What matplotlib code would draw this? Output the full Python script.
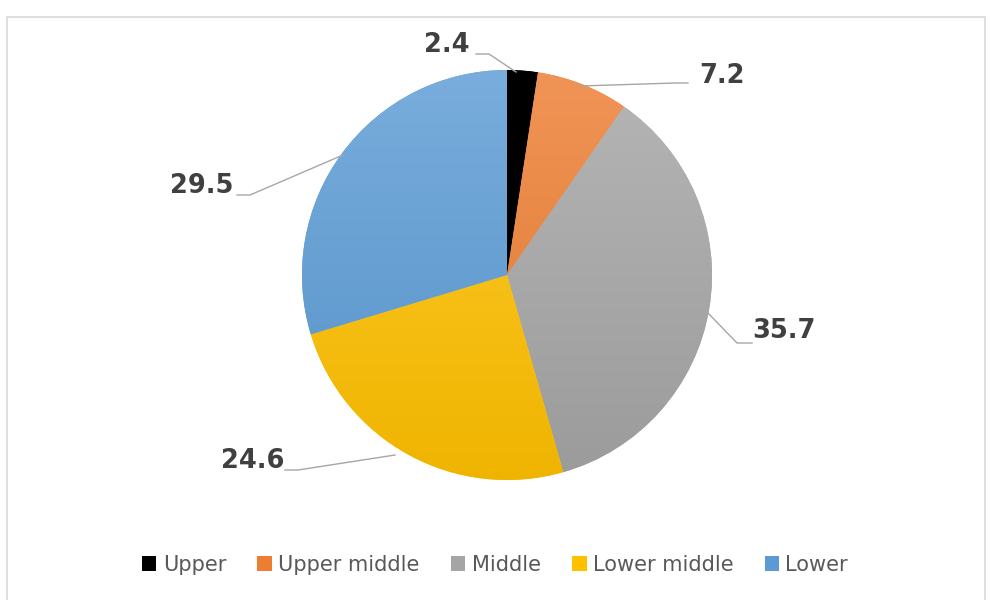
import numpy as np
import matplotlib
matplotlib.use("Agg")
import matplotlib.pyplot as plt
from matplotlib.patches import Patch, Rectangle
from matplotlib.colors import to_rgb

# --- data ---
categories = ["Upper", "Upper middle", "Middle", "Lower middle", "Lower"]
shares = [2.4, 7.2, 35.7, 24.6, 29.5]
colors = ["#000000", "#ED7D31", "#A5A5A5", "#FFC000", "#5B9BD5"]
label_text = ["2.4", "7.2", "35.7", "24.6", "29.5"]

# label text position (pixels from top-left) and leader line points
label_pos = [(447, 45), (722, 76), (784, 331), (253, 461), (202, 186)]
leader_pts = [
    [(476, 54), (489, 54), (516, 72)],
    [(688, 83), (675, 83), (580, 86)],
    [(707, 312), (737, 343), (752, 343)],
    [(285, 470), (298, 470), (395, 455)],
    [(237, 195), (250, 195), (343, 155)],
]

W, H = 990, 600
cx, cy, r = 507, 275, 205

fig = plt.figure(figsize=(9.9, 6.0), dpi=100)
ax = fig.add_axes([0, 0, 1, 1])

# light frame round the chart area
ax.add_patch(Rectangle((7, -5), 978, 588, fill=False, edgecolor="#D9D9D9", lw=1.2))

wedges, _ = ax.pie(shares, colors=colors, startangle=90, counterclock=False,
                   center=(cx, H - cy), radius=r, frame=True,
                   wedgeprops=dict(linewidth=0))

# vertical gradient inside each slice (lighter on top)
def lighten(c, f):
    c = np.array(to_rgb(c))
    return c + (1 - c) * f

grad = np.linspace(0, 1, 256)[:, None]
for w, c in zip(wedges, colors):
    top = lighten(c, 0.18) if c != "#000000" else np.array([0, 0, 0])
    bot = np.array(to_rgb(c)) * 0.94
    img = top[None, None, :] * (1 - grad[:, :, None]) + bot[None, None, :] * grad[:, :, None]
    im = ax.imshow(img, extent=(cx - r, cx + r, H - cy - r, H - cy + r),
                   origin="upper", aspect="auto", zorder=1.5)
    im.set_clip_path(w)

ax.set_xlim(0, W)
ax.set_ylim(0, H)
ax.axis("off")

# leader lines and value labels
for txt, (tx, ty), pts in zip(label_text, label_pos, leader_pts):
    xs = [p[0] for p in pts]
    ys = [H - p[1] for p in pts]
    ax.plot(xs, ys, color="#A6A6A6", lw=1.0, zorder=3)
    ax.text(tx, H - ty, txt, ha="center", va="center", fontsize=18.5,
            fontweight="bold", color="#404040", family="DejaVu Sans", zorder=4)

handles = [Patch(facecolor=c, edgecolor="none") for c in colors]
fig.legend(handles, categories, loc="center", bbox_to_anchor=(0.5, 1 - 565 / H),
           ncol=5, frameon=False, fontsize=15, labelcolor="#595959",
           handlelength=0.7, handleheight=0.7, handletextpad=0.3, columnspacing=1.5)

fig.savefig("out.png", dpi=100, facecolor="white")
